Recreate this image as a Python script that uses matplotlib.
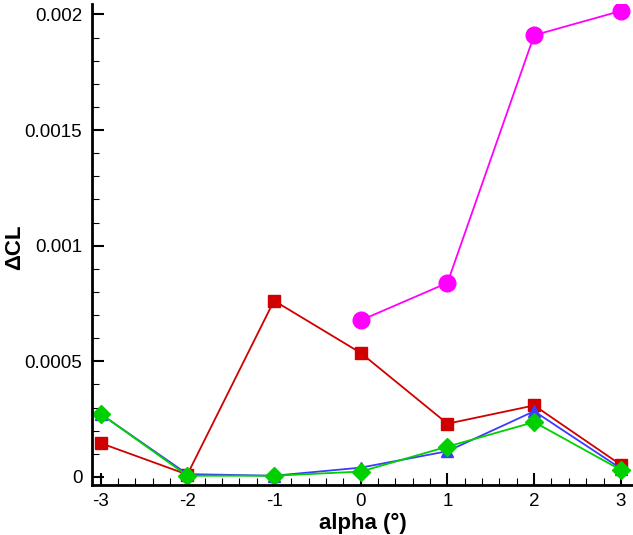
import matplotlib.pyplot as plt
from matplotlib.ticker import MultipleLocator

plt.rcParams['font.family'] = ['Liberation Sans', 'DejaVu Sans']
plt.rcParams['axes.unicode_minus'] = False

# angle of attack
alpha = [-3, -2, -1, 0, 1, 2, 3]

# delta CL for each case
dcl_magenta = [0.000677, 0.000839, 0.00191, 0.002015]
dcl_red = [0.000146, 0.00001, 0.000762, 0.000536, 0.00023, 0.000309, 0.000052]
dcl_blue = [0.000272, 0.000012, 0.000005, 0.00004, 0.000111, 0.000284, 0.000036]
dcl_green = [0.000273, 0.000005, 0.000005, 0.000023, 0.000131, 0.000237, 0.00003]

fig = plt.figure(figsize=(6.33, 5.35), dpi=100)
ax = fig.add_axes([0.1453, 0.0935, 0.8547, 0.899])

ax.plot(alpha[3:], dcl_magenta, '-o', color='#ff00ff', lw=1.3, ms=12)
ax.plot(alpha, dcl_red, '-s', color='#d00000', lw=1.3, ms=9)
ax.plot(alpha, dcl_blue, '-^', color='#3c3cff', lw=1.3, ms=9)
ax.plot(alpha, dcl_green, '-D', color='#00d000', lw=1.3, ms=9)

ax.set_xlim(-3.1, 3.14)
ax.set_ylim(-0.000035, 0.002045)

ax.xaxis.set_major_locator(MultipleLocator(1))
ax.xaxis.set_minor_locator(MultipleLocator(0.2))
ax.yaxis.set_major_locator(MultipleLocator(0.0005))
ax.yaxis.set_minor_locator(MultipleLocator(0.0001))
ax.set_yticks([0, 0.0005, 0.001, 0.0015, 0.002])
ax.set_yticklabels(['0', '0.0005', '0.001', '0.0015', '0.002'])

for s in ['top', 'right']:
    ax.spines[s].set_visible(False)
for s in ['left', 'bottom']:
    ax.spines[s].set_linewidth(2)

ax.tick_params(which='major', direction='in', length=8.5, width=1.5,
               labelsize=13.5, pad=6)
ax.tick_params(which='minor', direction='in', length=4.8, width=0.8)
ax.tick_params(axis='y', which='major', pad=7)

ax.set_xlabel('alpha (°)', fontsize=16, fontweight='bold', labelpad=2)
ax.set_ylabel('ΔCL', fontsize=16, fontweight='bold')
ax.yaxis.set_label_coords(-0.124, 0.495)

fig.savefig('out.png', dpi=100)
